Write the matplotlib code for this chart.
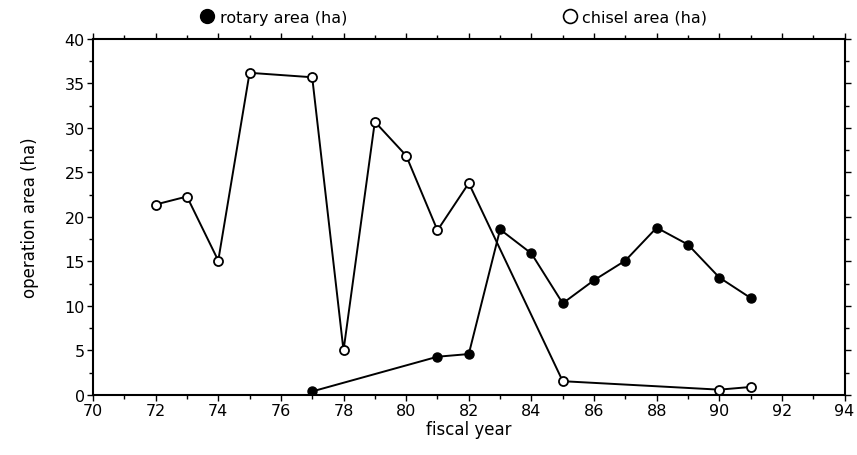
import matplotlib
matplotlib.use("Agg")
import matplotlib.pyplot as plt
from matplotlib.lines import Line2D
from matplotlib.ticker import MultipleLocator

# fiscal years and areas
chisel_year = [72, 73, 74, 75, 77, 78, 79, 80, 81, 82, 85, 90, 91]
chisel_area = [21.4, 22.3, 15.1, 36.2, 35.7, 5.0, 30.7, 26.9, 18.5, 23.8, 1.55, 0.6, 0.9]

rotary_year = [77, 81, 82, 83, 84, 85, 86, 87, 88, 89, 90, 91]
rotary_area = [0.4, 4.3, 4.6, 18.6, 15.9, 10.3, 12.9, 15.1, 18.8, 16.9, 13.2, 10.9]

plt.rcParams["font.family"] = ["DejaVu Sans"]
plt.rcParams["font.size"] = 12

fig = plt.figure(figsize=(8.57, 4.56), dpi=100)
ax = fig.add_axes([0.1085, 0.1316, 0.877, 0.7807])

ax.plot(chisel_year, chisel_area, color="black", lw=1.4, marker="o", ms=6.5,
        mfc="white", mec="black", mew=1.3, zorder=3)
ax.plot(rotary_year, rotary_area, color="black", lw=1.4, marker="o", ms=6.5,
        mfc="black", mec="black", zorder=3)

ax.set_xlim(70, 94)
ax.set_ylim(0, 40)
ax.xaxis.set_major_locator(MultipleLocator(2))
ax.xaxis.set_minor_locator(MultipleLocator(1))
ax.yaxis.set_major_locator(MultipleLocator(5))
ax.yaxis.set_minor_locator(MultipleLocator(2.5))
ax.tick_params(which="both", direction="out", top=True, right=True,
               labeltop=False, labelright=False, width=1.0)
ax.tick_params(which="major", length=4, pad=2, labelsize=11.5)
ax.tick_params(which="minor", length=3)
for s in ax.spines.values():
    s.set_linewidth(1.5)

ax.set_xlabel("fiscal year", labelpad=1)
ax.set_ylabel("operation area (ha)", labelpad=18)

handles = [
    Line2D([], [], ls="none", marker="o", ms=10, mfc="black", mec="black"),
    Line2D([], [], ls="none", marker="o", ms=10, mfc="white", mec="black", mew=1.2),
]
fig.legend(handles, ["rotary area (ha)", "chisel area (ha)"], loc="center",
           bbox_to_anchor=(0.53, 0.96), ncol=2, frameon=False, fontsize=11.5,
           handlelength=0.8, handletextpad=0.4, columnspacing=13.5)

fig.savefig("out.png", dpi=100)
